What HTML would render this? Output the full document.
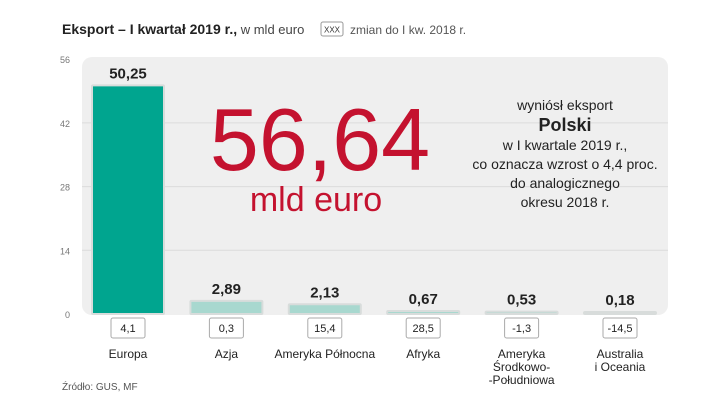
<!DOCTYPE html>
<html><head><meta charset="utf-8"><style>
body{margin:0;width:720px;height:405px;background:#fff;overflow:hidden;font-family:"Liberation Sans",sans-serif;}
svg text{font-family:"Liberation Sans",sans-serif;}
</style></head><body>
<svg width="720" height="405">
<text x="62" y="34" font-size="14" fill="#222"><tspan font-weight="bold">Eksport – I kwartał 2019 r.,</tspan><tspan font-size="13" fill="#444"> w mld euro</tspan></text>
<rect x="321" y="22" width="22" height="14" rx="2" fill="#fff" stroke="#999"/>
<text x="332" y="32.5" font-size="8" text-anchor="middle" fill="#333">XXX</text>
<text x="350" y="34" font-size="12" fill="#555">zmian do I kw. 2018 r.</text>
<rect x="82" y="57" width="586" height="258" rx="10" fill="#efefef"/>
<g id="grid"></g><g id="ticks"></g><g id="bars"></g>
<text x="320" y="170" font-size="88" fill="#c4122f" text-anchor="middle">56,64</text>
<text x="316" y="211" font-size="34" fill="#c4122f" text-anchor="middle">mld euro</text>
<g font-size="14" fill="#222" text-anchor="middle">
<text x="565" y="110">wyniósł eksport</text>
<text x="565" y="131" font-size="18" font-weight="bold">Polski</text>
<text x="565" y="150">w I kwartale 2019 r.,</text>
<text x="565" y="169">co oznacza wzrost o 4,4 proc.</text>
<text x="565" y="188">do analogicznego</text>
<text x="565" y="207">okresu 2018 r.</text>
</g>
<text x="62" y="390" font-size="10" fill="#555">Źródło: GUS, MF</text>
</svg>
<script>
const categories=[["Europa"],["Azja"],["Ameryka Północna"],["Afryka"],["Ameryka","Środkowo-","-Południowa"],["Australia","i Oceania"]];
const values=[50.25,2.89,2.13,0.67,0.53,0.18];
const valueLabels=["50,25","2,89","2,13","0,67","0,53","0,18"];
const changes=["4,1","0,3","15,4","28,5","-1,3","-14,5"];
const yTicks=[0,14,28,42,56];
const NS="http://www.w3.org/2000/svg";
const y=v=>314-v*4.55;
const x=i=>128+i*98.4;
function mk(t,a,p,txt){const e=document.createElementNS(NS,t);for(const k in a)e.setAttribute(k,a[k]);if(txt!=null)e.textContent=txt;p.appendChild(e);return e;}
const G=document.getElementById('grid'),T=document.getElementById('ticks'),B=document.getElementById('bars');
yTicks.forEach(v=>{
 if(v>0&&v<56){const l=mk('line',{x1:82,x2:668,y1:y(v),y2:y(v),stroke:'#dcdcdc'},G);
 
 }
 const t=mk('text',{x:70,y:y(v)+4,'font-size':9,fill:'#777','text-anchor':'end'},T,String(v));
 
 
});
values.forEach((v,i)=>{
 const cx=x(i),w=72,top=y(v),h=Math.max(314-top,2);
 const r=mk('rect',{x:cx-w/2,y:314-h,width:w,height:h,fill:i==0?'#00a58f':'#a8d8cf',stroke:'#d8dcdb','stroke-width':2,rx:1},B);
 
 
 const vl=mk('text',{x:cx,y:314-h-7,'font-size':15,'font-weight':'bold',fill:'#222','text-anchor':'middle'},B,valueLabels[i]);
 
 
 const cb=mk('rect',{x:cx-17,y:318,width:34,height:20,rx:2,fill:'#fff',stroke:'#aaa'},B);
 
 
 const ct=mk('text',{x:cx,y:332,'font-size':11,fill:'#222','text-anchor':'middle'},B,changes[i]);
 
 
 categories[i].forEach((s,j)=>{
  const c=mk('text',{x:cx,y:358+j*13,'font-size':12,fill:'#222','text-anchor':'middle'},B,s);
  
  
 });
});
</script>
</body></html>
